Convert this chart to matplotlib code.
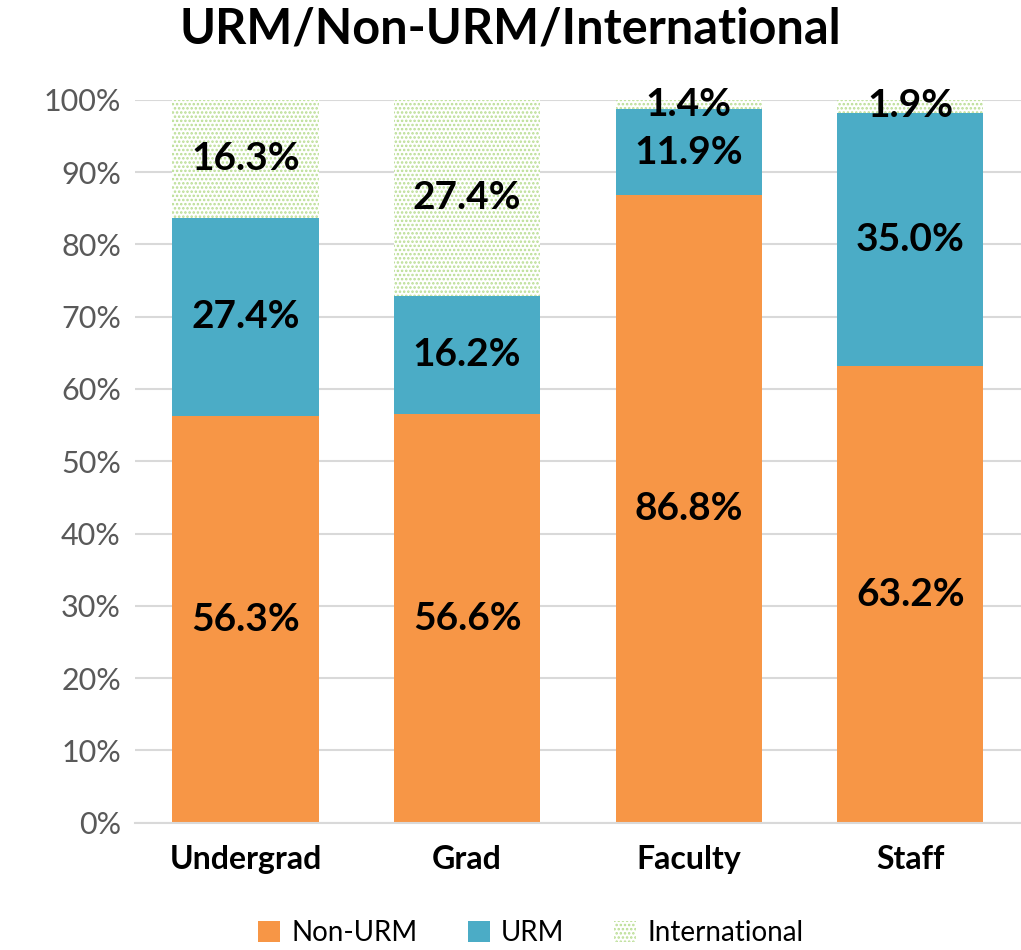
import matplotlib.pyplot as plt
import numpy as np

plt.rcParams['font.family'] = ['Lato', 'DejaVu Sans']
plt.rcParams['hatch.linewidth'] = 1.2

categories = ['Undergrad', 'Grad', 'Faculty', 'Staff']
non_urm = [56.3, 56.6, 86.8, 63.2]
urm = [27.4, 16.2, 11.9, 35.0]
international = [16.3, 27.4, 1.4, 1.9]

fig = plt.figure(figsize=(10.21, 9.5), dpi=100)
ax = fig.add_axes([0.132, 0.134, 0.868, 0.761])

x = np.arange(len(categories))
w = 0.66
b1 = ax.bar(x, non_urm, w, color='#F79646', label='Non-URM', zorder=2)
b2 = ax.bar(x, urm, w, bottom=non_urm, color='#4BACC6', label='URM', zorder=2)
bot3 = [a + b for a, b in zip(non_urm, urm)]
b3 = ax.bar(x, international, w, bottom=bot3, color='white', edgecolor='#B9DD92',
            hatch='....', linewidth=0, label='International', zorder=2)

for bars, vals, bots in [(b1, non_urm, [0] * 4), (b2, urm, non_urm), (b3, international, bot3)]:
    for xi, v, b in zip(x, vals, bots):
        ax.text(xi, b + v / 2, f'{v:.1f}%', ha='center', va='center',
                fontsize=28, fontweight='bold', color='black', zorder=3)

ax.set_xlim(-0.5, 3.5)
ax.set_ylim(0, 100)
ax.set_yticks(range(0, 101, 10))
ax.set_yticklabels([f'{t}%' for t in range(0, 101, 10)], fontsize=22, color='#595959')
ax.set_xticks(x)
ax.set_xticklabels(categories, fontsize=23, fontweight='bold')
ax.tick_params(axis='both', length=0, pad=10)
ax.tick_params(axis='x', pad=16)
ax.yaxis.grid(True, color='#D9D9D9', linewidth=1.5, zorder=0)
ax.set_axisbelow(True)
for s in ['top', 'right', 'left']:
    ax.spines[s].set_visible(False)
ax.spines['bottom'].set_color('#D9D9D9')
ax.spines['bottom'].set_linewidth(1.5)

fig.suptitle('URM/Non-URM/International', fontsize=35, fontweight='bold', y=0.993)
fig.legend(handles=[b1, b2, b3], loc='lower center', bbox_to_anchor=(0.52, -0.022),
           ncol=3, frameon=False, fontsize=20, handlelength=0.8, handleheight=0.8,
           columnspacing=1.8, handletextpad=0.4)

fig.savefig('out.png', dpi=100)
